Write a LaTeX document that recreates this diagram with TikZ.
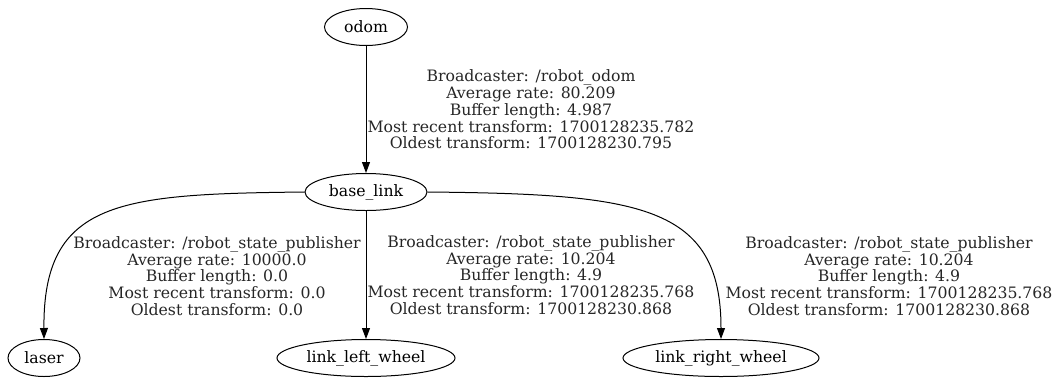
\documentclass[tikz,border=0pt]{standalone}
\usepackage{fontspec}
\setmainfont{DejaVu Serif}
\usetikzlibrary{positioning, shapes.geometric, arrows.meta}

\tikzset{
    frame/.style={ellipse, draw, line width=1pt, inner sep=0pt, minimum height=37pt},
    info/.style={align=center, inner sep=0pt, text=black!85, font=\fontsize{15.7}{16.7}\selectfont},
    >={Triangle[length=11pt, width=8pt]}
}

\begin{document}
\begin{tikzpicture}[x=1pt, y=-1pt, font=\fontsize{15.7}{16.7}\selectfont]
    \useasboundingbox (0,0) rectangle (1056,381);

    % Frames
    \node[frame, minimum width=83pt] (odom) at (366,27) {odom};
    \node[frame, minimum width=122pt] (base_link) at (366,192) {base\_link};
    \node[frame, minimum width=72pt] (laser) at (44,358) {laser};
    \node[frame, minimum width=178pt] (link_left_wheel) at (366,358) {link\_left\_wheel};
    \node[frame, minimum width=196pt] (link_right_wheel) at (721,358) {link\_right\_wheel};

    % Arrows
    \draw[->, line width=1pt] (odom) -- node[info, right=1pt] {Broadcaster: /robot\_odom\\Average rate: 80.209\\Buffer length: 4.987\\Most recent transform: 1700128235.782\\Oldest transform: 1700128230.795} (base_link);
    \draw[->, line width=1pt] (base_link) -- node[info, right=1pt] {Broadcaster: /robot\_state\_publisher\\Average rate: 10.204\\Buffer length: 4.9\\Most recent transform: 1700128235.768\\Oldest transform: 1700128230.868} (link_left_wheel);
    \draw[->, line width=1pt] (base_link.west) .. controls (120,194) and (43,200) .. (laser.north);
    \draw[->, line width=1pt] (base_link.east) .. controls (640,194) and (721,205) .. (link_right_wheel.north);

    % Labels
    \node[info] (laser_info) at (217,276) {Broadcaster: /robot\_state\_publisher\\Average rate: 10000.0\\Buffer length: 0.0\\Most recent transform: 0.0\\Oldest transform: 0.0};
    \node[info] (right_wheel_info) at (889,276) {Broadcaster: /robot\_state\_publisher\\Average rate: 10.204\\Buffer length: 4.9\\Most recent transform: 1700128235.768\\Oldest transform: 1700128230.868};
\end{tikzpicture}
\end{document}
